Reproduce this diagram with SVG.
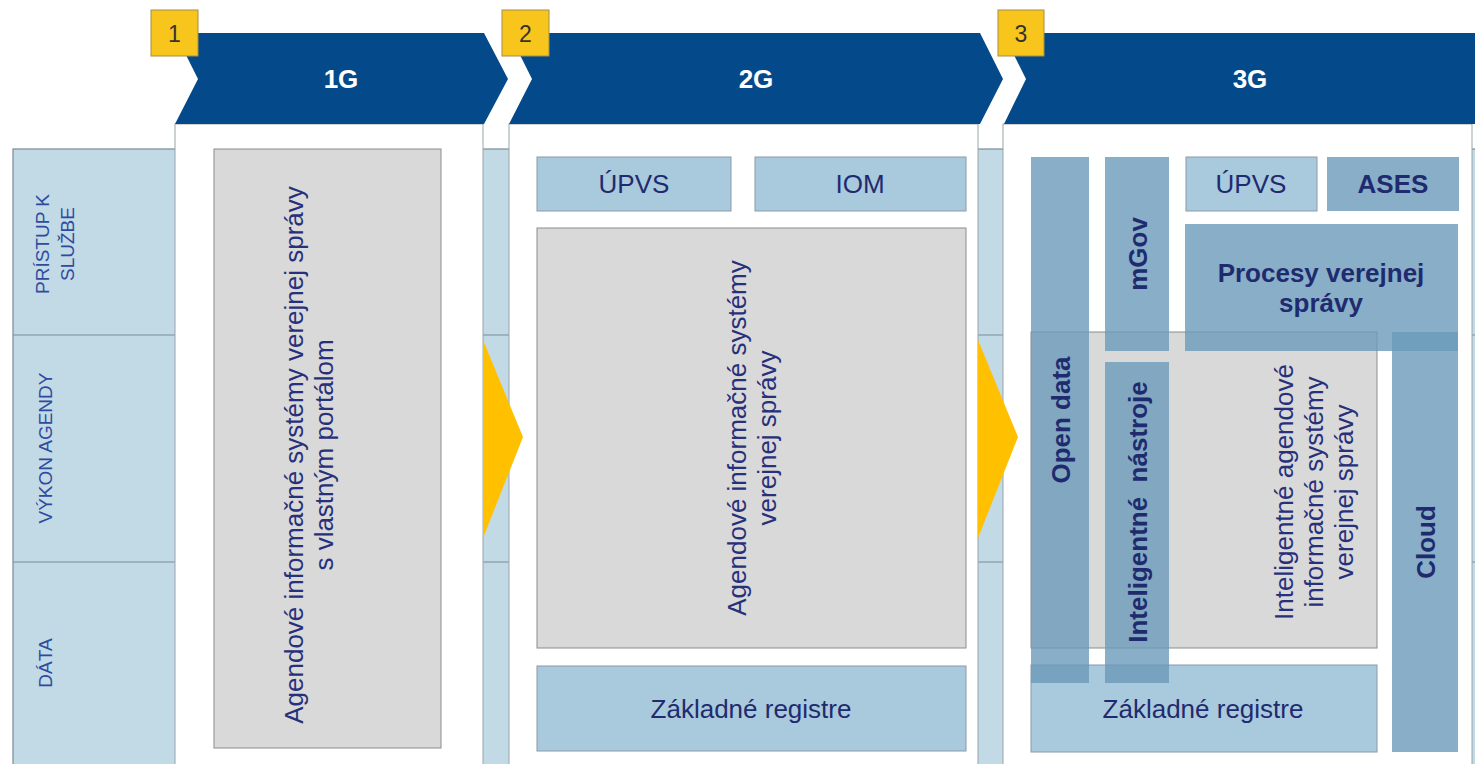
<svg xmlns="http://www.w3.org/2000/svg" width="1475" height="764" viewBox="0 0 1475 764">
<style>
text{font-family:"Liberation Sans",Arial,sans-serif;}
.lbl{font-size:19px;fill:#2f4ba0;text-anchor:middle;}
.t{font-size:26px;fill:#1f2b6e;text-anchor:middle;}
.b{font-size:26px;fill:#1f2b6e;text-anchor:middle;font-weight:bold;}
.g{font-size:26px;fill:#27307a;text-anchor:middle;}
.hd{font-size:26px;fill:#ffffff;text-anchor:middle;font-weight:bold;}
.num{font-size:23px;fill:#333333;text-anchor:middle;}
.chev{fill:#044a8b;}
.ybox{fill:#f8c51c;stroke:#a58d45;stroke-width:1;}
.panel{fill:#ffffff;stroke:#9aa4aa;stroke-width:1;}
.gray{fill:#d9d9d9;stroke:#8c8c8c;stroke-width:1;}
.lb{fill:#a9c9dd;stroke:#8a9aa5;stroke-width:1;}
.db{fill:#6a9aba;fill-opacity:0.8;}
.arr{fill:#ffc000;}
.row{stroke:#7a8c98;stroke-width:1.2;fill:none;}
</style>

<rect width="1475" height="764" fill="#ffffff"/>

<g id="table">
<rect x="13" y="149" width="1470" height="630" fill="#c2d9e6" stroke="#7a8c98" stroke-width="1.2"/>
<line class="row" x1="13" y1="335" x2="1475" y2="335"/>
<line class="row" x1="13" y1="562" x2="1475" y2="562"/>
</g>

<g id="row-labels">
<text class="lbl" transform="translate(49,244) rotate(-90)">PRÍSTUP K</text>
<text class="lbl" transform="translate(74,244) rotate(-90)">SLUŽBE</text>
<text class="lbl" transform="translate(52,448) rotate(-90)">VÝKON AGENDY</text>
<text class="lbl" transform="translate(52,663) rotate(-90)">DÁTA</text>
</g>

<g id="panels">
<rect class="panel" x="175" y="124" width="308" height="650"/>
<rect class="panel" x="509" y="124" width="469" height="650"/>
<rect class="panel" x="1003" y="124" width="469" height="650"/>
</g>

<g id="connectors">
<polygon class="arr" points="483,340 523,437 483,538"/>
<polygon class="arr" points="978,340 1018,437 978,538"/>
</g>

<g id="header-1g">
<polygon class="chev" points="175,33 484,33 508,79 484,124 175,124 198,79"/>
<text class="hd" x="341" y="88">1G</text>
<rect class="ybox" x="151" y="10" width="47" height="46"/>
<text class="num" x="174.5" y="42">1</text>
</g>

<g id="header-2g">
<polygon class="chev" points="509,33 980,33 1003,79 980,124 509,124 532,79"/>
<text class="hd" x="756" y="88">2G</text>
<rect class="ybox" x="502" y="10" width="47" height="46"/>
<text class="num" x="525.5" y="42">2</text>
</g>

<g id="header-3g">
<polygon class="chev" points="1003,33 1480,33 1480,124 1004,124 1026,79"/>
<text class="hd" x="1250" y="88">3G</text>
<rect class="ybox" x="998" y="10" width="46" height="46"/>
<text class="num" x="1021" y="42">3</text>
</g>

<g id="g1-ais">
<rect class="gray" x="214" y="149" width="227" height="599"/>
<text class="g" transform="translate(303,455) rotate(-90)">Agendové informačné systémy verejnej správy</text>
<text class="g" transform="translate(333,455) rotate(-90)">s vlastným portálom</text>
</g>

<g id="g2-upvs">
<rect class="lb" x="537" y="157" width="194" height="54"/>
<text class="t" x="634" y="193">ÚPVS</text>
</g>
<g id="g2-iom">
<rect class="lb" x="755" y="157" width="211" height="54"/>
<text class="t" x="860" y="193">IOM</text>
</g>
<g id="g2-ais">
<rect class="gray" x="537" y="228" width="429" height="420"/>
<text class="g" transform="translate(746,438) rotate(-90)">Agendové informačné systémy</text>
<text class="g" transform="translate(776,438) rotate(-90)">verejnej správy</text>
</g>
<g id="g2-zr">
<rect class="lb" x="537" y="666" width="429" height="85"/>
<text class="t" x="751" y="718">Základné registre</text>
</g>

<g id="g3-zr">
<rect class="lb" x="1031" y="665" width="346" height="87"/>
<text class="t" x="1203" y="718">Základné registre</text>
</g>
<g id="g3-iais">
<rect class="gray" x="1031" y="332" width="346" height="316"/>
<text class="g" transform="translate(1293,492) rotate(-90)">Inteligentné agendové</text>
<text class="g" transform="translate(1323,492) rotate(-90)">informačné systémy</text>
<text class="g" transform="translate(1353,492) rotate(-90)">verejnej správy</text>
</g>
<g id="g3-opendata">
<rect class="db" x="1031" y="157" width="58" height="526"/>
<text class="b" transform="translate(1070,420) rotate(-90)">Open data</text>
</g>
<g id="g3-mgov">
<rect class="db" x="1105" y="157" width="64" height="194"/>
<text class="b" transform="translate(1147,254) rotate(-90)">mGov</text>
</g>
<g id="g3-nastroje">
<rect class="db" x="1105" y="362" width="64" height="321"/>
<text class="b" transform="translate(1147,512) rotate(-90)" xml:space="preserve">Inteligentné  nástroje</text>
</g>
<g id="g3-upvs">
<rect class="lb" x="1186" y="157" width="131" height="54"/>
<text class="t" x="1251" y="193">ÚPVS</text>
</g>
<g id="g3-ases">
<rect class="db" x="1327" y="157" width="132" height="54"/>
<text class="b" x="1393" y="193">ASES</text>
</g>
<g id="g3-procesy">
<rect class="db" x="1185" y="224" width="273" height="127"/>
<text class="b" x="1321" y="282">Procesy verejnej</text>
<text class="b" x="1321" y="312">správy</text>
</g>
<g id="g3-cloud">
<rect class="db" x="1392" y="332" width="66" height="420"/>
<text class="b" transform="translate(1435,542) rotate(-90)">Cloud</text>
</g>
</svg>
